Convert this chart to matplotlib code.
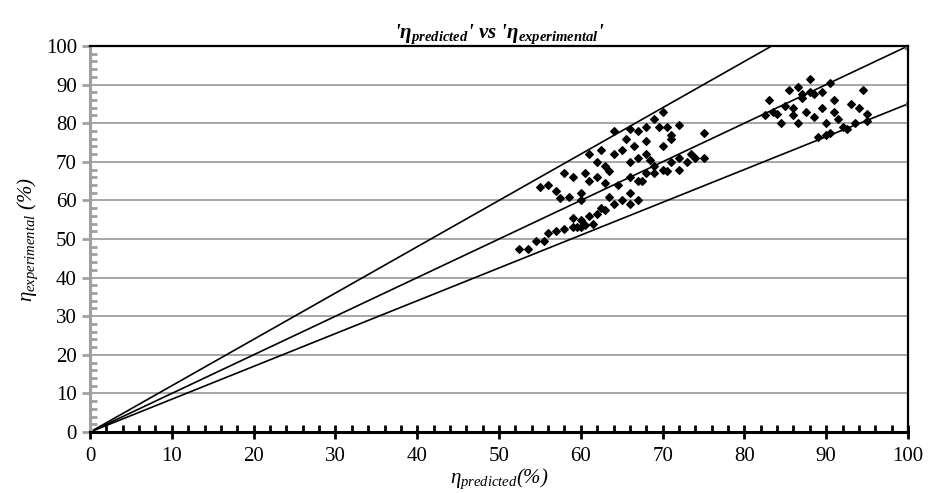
import matplotlib
matplotlib.use("Agg")
import matplotlib.pyplot as plt
from matplotlib.ticker import MultipleLocator

plt.rcParams['font.family'] = ['Liberation Serif', 'DejaVu Serif']
plt.rcParams['mathtext.fontset'] = 'custom'
plt.rcParams['mathtext.rm'] = 'Liberation Serif'
plt.rcParams['mathtext.it'] = 'Liberation Serif:italic'
plt.rcParams['mathtext.bf'] = 'Liberation Serif:bold:italic'

# predicted vs experimental efficiency (%)
eta_pred = [52.5, 53.5, 54.5, 55.5, 56, 57, 58, 59, 59.5, 60, 60.5, 60, 61, 59, 61.5,
            62, 62.5, 63, 64, 63.5, 65, 66, 66, 67, 67.5, 68, 69, 70, 71, 72, 73, 74,
            75, 75, 73.5, 72, 70.5, 68.5, 67, 66,
            55, 56, 57, 57.5, 58, 59, 58.5, 60, 60.5, 61, 62, 62, 61, 62.5, 63, 63.5,
            64, 64, 65, 65.5, 66, 67, 66.5, 68, 68, 69, 69.5, 70, 70.5, 71, 70, 68,
            69, 67, 72, 71, 64.5, 66, 63, 60,
            82.5, 83, 83.5, 84, 84.5, 85, 85.5, 86, 86, 86.5, 86.5, 87, 87, 87.5, 88,
            88, 88.5, 88.5, 89, 89.5, 89.5, 90, 90, 90.5, 90.5, 91, 91, 91.5, 92,
            92.5, 93, 93.5, 94, 94.5, 95, 95]
eta_exp = [47.5, 47.5, 49.5, 49.5, 51.5, 52, 52.5, 53, 53, 53, 53.5, 55, 56, 55.5, 54,
           56.5, 58, 57.5, 59, 61, 60, 59, 62, 60, 65, 67, 67, 68, 70, 71, 70, 71,
           71, 77.5, 72, 68, 67.5, 70.5, 65, 66,
           63.5, 64, 62.5, 60.5, 67, 66, 61, 62, 67, 65, 66, 70, 72, 73, 69, 67.5,
           78, 72, 73, 76, 78.5, 78, 74, 79, 75.5, 81, 79, 83, 79, 76, 74, 72,
           69, 71, 79.5, 77, 64, 70, 64.5, 60,
           82, 86, 83, 82.5, 80, 84.5, 88.5, 84, 82, 80, 89.5, 86.5, 87.5, 83, 91.5,
           88, 87.5, 81.5, 76.5, 88, 84, 80, 77, 77.5, 90.5, 86, 83, 81, 79,
           78.5, 85, 80, 84, 88.5, 82.5, 80.5]

# reference lines through the origin
line_x = [0, 100]
upper_y = [0, 120]
middle_y = [0, 100]
lower_y = [0, 85]

fig = plt.figure(figsize=(9.38, 4.93), dpi=100)
ax = fig.add_axes([0.096, 0.1237, 0.872, 0.783])

ax.plot(line_x, upper_y, color='black', lw=1.2)
ax.plot(line_x, middle_y, color='black', lw=1.2, marker='s', ms=4, mfc='#808080', mec='#808080')
ax.plot(line_x, lower_y, color='black', lw=1.2, marker='s', ms=3, mfc='#909090', mec='#909090')
ax.scatter(eta_pred, eta_exp, marker='D', s=15, color='black', zorder=4)

ax.set_xlim(0, 100)
ax.set_ylim(0, 100)
ax.xaxis.set_major_locator(MultipleLocator(10))
ax.xaxis.set_minor_locator(MultipleLocator(2))
ax.yaxis.set_major_locator(MultipleLocator(10))
ax.yaxis.set_minor_locator(MultipleLocator(2))
ax.grid(axis='y', which='major', color='#a6a6a6', lw=1.4)
ax.set_axisbelow(True)

for s in ['top', 'right', 'bottom']:
    ax.spines[s].set_color('black')
ax.spines['bottom'].set_linewidth(2.2)
ax.spines['top'].set_linewidth(1.6)
ax.spines['right'].set_linewidth(1.6)
ax.spines['left'].set_color('#a0a0a0')
ax.spines['left'].set_linewidth(2.2)

ax.tick_params(axis='x', which='major', direction='inout', length=10, width=2,
               color='black', labelsize=15, pad=6)
ax.tick_params(axis='x', which='minor', direction='in', length=5, width=2, color='black')
ax.tick_params(axis='y', which='major', direction='out', length=6, width=2,
               color='#a0a0a0', labelsize=15, labelcolor='black')
ax.tick_params(axis='y', which='minor', direction='in', length=5, width=2, color='#a0a0a0')

ax.set_title(r"'$\mathbf{\eta_{predicted}}$' vs '$\mathbf{\eta_{experimental}}$'",
             fontsize=15, fontweight='bold', fontstyle='italic', pad=5)
ax.set_xlabel(r"$\eta_{predicted}$(%)", fontsize=15, fontstyle='italic', labelpad=0)
ax.set_ylabel(r"$\eta_{experimental}$ (%)", fontsize=15, fontstyle='italic', labelpad=4)

fig.savefig('out.png', dpi=100)
